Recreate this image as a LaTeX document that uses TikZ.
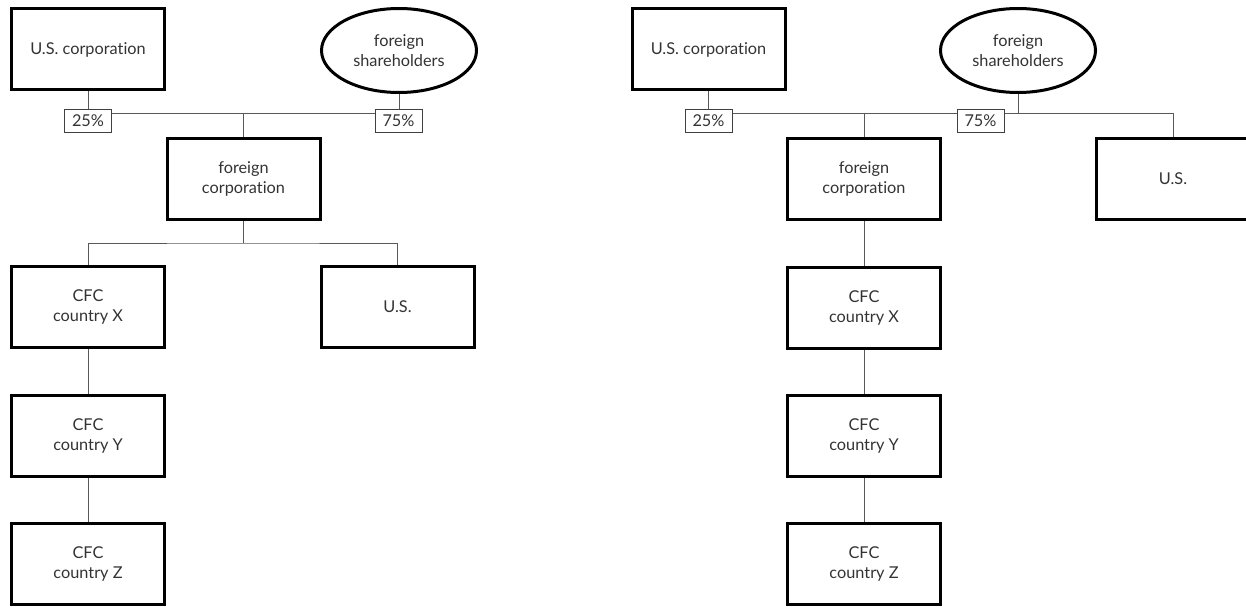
\documentclass[tikz,border=0pt]{standalone}
\usepackage{fontspec}
\setmainfont{Lato}[Ligatures={NoCommon}]
\usetikzlibrary{shapes.geometric}
\begin{document}
\begin{tikzpicture}[x=1pt,y=-1pt,
  every node/.style={font=\fontsize{16.3}{20}\selectfont, text=black!80, align=center, inner sep=0pt},
  bigbox/.style={draw=black, line width=3pt, rectangle, minimum width=153pt, minimum height=81pt},
  oval/.style={draw=black, line width=3pt, ellipse, minimum width=155pt, minimum height=84pt},
  pct/.style={draw=black!75, line width=1pt, rectangle, minimum width=47pt, minimum height=23pt},
  link/.style={draw=black!65, line width=1pt}]
\clip (0,0) rectangle (1246,607);
% ---------- left diagram ----------
\node[bigbox] (uc1) at (88,49.5) {U.S. corporation};
\node[oval] (fs1) at (399,50.5) {foreign\\shareholders};
\node[pct] (p25a) at (88,121) {25\%};
\node[pct] (p75a) at (398.5,121) {75\%};
\node[bigbox] (fc1) at (243.5,179) {foreign\\corporation};
\node[bigbox] (x1) at (88,307) {CFC\\country X};
\node[bigbox] (us1) at (397.5,307) {U.S.};
\node[bigbox] (y1) at (88,435.5) {CFC\\country Y};
\node[bigbox] (z1) at (88,564) {CFC\\country Z};
\coordinate (bar1) at (243.5,114);
\coordinate (bar2) at (243.5,243);
\draw[link] (uc1.south) -- (p25a.north);
\draw[link] (fs1.south) -- (fs1.south |- p75a.north);
\draw[link] (p25a.east |- bar1) -- (p75a.west |- bar1);
\draw[link] (bar1) -- (fc1.north);
\draw[link] (fc1.south) -- (bar2);
\draw[link] (x1.north) |- (bar2) -| (us1.north);
\draw[link] (x1.south) -- (y1.north);
\draw[link] (y1.south) -- (z1.north);
% ---------- right diagram ----------
\node[bigbox] (uc2) at (708.5,49.5) {U.S. corporation};
\node[oval] (fs2) at (1018,50.5) {foreign\\shareholders};
\node[pct] (p25b) at (708.5,121) {25\%};
\node[pct] (p75b) at (980.5,121) {75\%};
\node[bigbox] (fc2) at (864,179) {foreign\\corporation};
\node[bigbox] (us2) at (1173,179) {U.S.};
\node[bigbox] (x2) at (864,307.5) {CFC\\country X};
\node[bigbox] (y2) at (864,436) {CFC\\country Y};
\node[bigbox] (z2) at (864,564) {CFC\\country Z};
\coordinate (bar3) at (864,114);
\draw[link] (uc2.south) -- (p25b.north);
\draw[link] (p25b.east |- bar3) -- (p75b.west |- bar3);
\draw[link] (p75b.east |- bar3) -| (us2.north);
\draw[link] (fs2.south) -- (fs2.south |- bar3);
\draw[link] (bar3) -- (fc2.north);
\draw[link] (fc2.south) -- (x2.north);
\draw[link] (x2.south) -- (y2.north);
\draw[link] (y2.south) -- (z2.north);
\end{tikzpicture}
\end{document}
